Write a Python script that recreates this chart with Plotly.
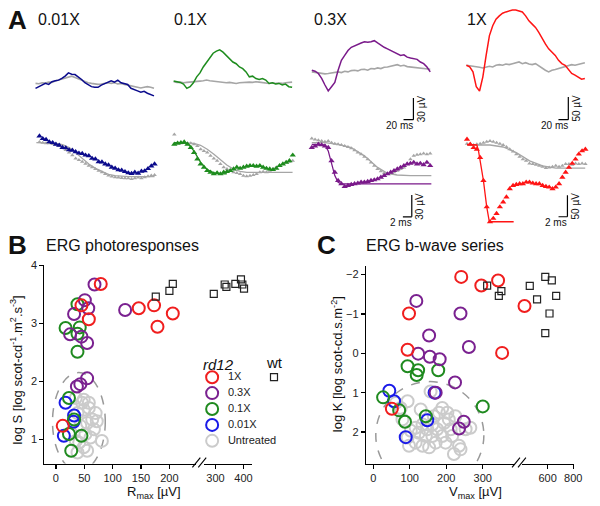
import plotly.graph_objects as go

W, H = 600, 506
FONT = "Liberation Sans, Arial, Helvetica, sans-serif"

# ====================== DATA : panel A (ERG traces) ======================
DT_TOP = 6.67   # ms between samples, flash responses
DT_BOT = 0.74   # ms between samples, a-wave leading edges

# flash responses (uV); treated and untreated (gray) traces
TOP_001 = [0, 2.3, 3.6, 6.8, 5.4, 9.1, 10.4, 11.3, 13.6, 16.8, 21.3, 19.5, 19.0, 15.9, 12.2, 7.7, 4.5, 2.3, 1.4, 1.4,
           4.5, 6.8, 8.2, 10.4, 8.6, 11.3, 7.7, 6.8, 5.4, 0, -1.4, -3.6, -5.4, -4.1, -6.8, -8.6, -10.4]
TOP_001_UNTR = [6.8, 6.3, 7.7, 7.3, 8.6, 8.2, 10.0, 11.3, 12.2, 13.6, 15.9, 16.8, 15.0, 13.1, 11.3, 9.1, 7.7, 6.8, 5.9,
                5.4, 5.9, 6.8, 7.7, 6.8, 7.7, 5.9, 6.8, 5.4, 4.5, 3.2, 2.3, 1.4, 0.5, 1.4, 2.3, 1.4, 0]
TOP_01 = [0, -0.9, -1.8, -4.1, -10.0, -7.7, -2.3, 5.9, 11.3, 19.5, 26.3, 33.1, 38.5, 41.3, 43.1, 39.9, 35.4, 30.8, 26.3,
          24.0, 19.5, 17.2, 12.7, 5.9, 6.8, 3.6, 2.3, 3.6, 1.4, -3.2, -2.3, -4.1, -3.2, -5.4, -4.1, -7.7, -8.6]
TOP_01_UNTR = [-0.9, -1.8, -1.4, -2.3, -1.8, -1.4, -1.8, -0.9, 0, 0.5, 1.4, 0.5, 0, -0.9, -0.5, -1.4, -2.3, -1.8, -2.7,
               -3.2, -2.3, -1.8, -2.3, -1.4, -1.8, -0.9, -1.4, -2.3, -3.2, -3.2, -2.3, -3.2, -2.7, -3.2, -2.3, -1.8, -1.4]
TOP_03 = [0, -1.4, -4.5, -11.3, -20.4, -28.6, -22.7, -16.8, 0, 13.6, 20.4, 27.2, 31.7, 34.0, 36.3, 37.6, 39.4, 38.5,
          39.4, 40.8, 37.6, 34.0, 31.7, 29.5, 27.2, 25.8, 22.7, 20.4, 21.3, 18.1, 16.8, 15.9, 15.0, 11.3, 9.1, 4.5, -2.3]
TOP_03_UNTR = [-2.3, -3.2, -4.1, -4.5, -5.0, -4.5, -3.6, -3.2, -2.3, -3.2, -1.4, -2.3, -0.5, 0, -0.9, 0.9, 1.4, 0, 2.3,
               1.8, 3.2, 2.3, 4.1, 4.5, 5.9, 6.8, 7.7, 5.9, 6.8, 5.0, 4.5, 3.2, 3.6, 2.3, 2.7, 1.4, 1.4]
TOP_1 = [0, -3.6, -14.5, -47.1, -56.6, -25.4, 21.8, 65.3, 87.0, 101.5, 108.8, 114.6, 117.5, 119.6, 121.8, 121.8, 119.6,
         117.5, 108.8, 97.9, 90.6, 83.4, 72.5, 58.0, 47.1, 36.3, 29.0, 21.8, 10.9, 3.6, 0, -8.7, -18.1, -21.8, -25.4,
         -30.5, -29.0]
TOP_1_UNTR = [0, -1.5, -2.2, -3.6, -4.4, -5.8, -3.6, -2.2, -3.6, 0, 1.5, 0, 2.9, 1.5, 3.6, 5.8, 7.3, 3.6, 5.8, 2.9, 1.5,
              3.6, -1.5, -7.3, -10.9, -14.5, -10.9, -9.4, -7.3, -3.6, -1.5, 0, 1.5, 0, 1.5, 3.6, 5.8]

# a-wave leading edges (uV): markers
BOT_001 = [2.3, -1.4, -2.5, -5.9, -6.8, -9.1, -10.5, -13.6, -14.1, -16.8, -17.3, -19.5, -21.4, -21.8, -24.1, -25.0,
           -28.6, -29.5, -33.2, -33.6, -36.4, -37.7, -40.9, -42.3, -44.5, -45.0, -46.8, -48.6, -49.5, -47.7, -49.1,
           -46.4, -45.9, -42.7, -39.1, -36.4]
BOT_001_UNTR = [-5.9, -6.8, -7.7, -7.7, -8.6, -9.5, -11.4, -13.6, -16.8, -20.5, -24.1, -28.6, -30.9, -33.2, -35.9,
                -38.6, -40.9, -43.2, -45.5, -47.7, -50.0, -52.3, -53.6, -54.5, -55.0, -55.5, -55.9, -55.9, -56.8, -55.9,
                -55.0, -55.9, -54.5, -53.2, -52.3, -51.4]
BOT_01 = [-2.3, -0.9, 0, 0.9, -2.3, -6.8, -13.6, -22.7, -29.5, -34.1, -38.6, -40.9, -43.2, -41.8, -43.2, -40.9, -40.0,
          -38.6, -36.4, -34.1, -35.5, -34.1, -32.7, -31.8, -31.8, -32.7, -31.8, -34.1, -35.5, -36.4, -37.3, -35.5,
          -31.8, -29.5, -27.3, -25.0, -17.3]
BOT_01_UNTR = [11.4, 0, -0.9, 0, -0.9, -0.9, -2.3, -4.5, -9.1, -11.4, -13.6, -18.2, -21.8, -25.0, -29.5, -34.1, -36.4,
               -38.6, -40.9, -41.8, -43.2, -45.5, -46.4, -45.5, -44.5, -43.2, -40.9, -40.0, -40.9, -38.6, -36.4, -34.1,
               -31.8, -29.5, -27.3, -26.4, -25.0]
BOT_03 = [-4.5, -2.3, 0, -0.9, -2.3, -4.5, -22.7, -38.6, -50.0, -54.5, -58.2, -56.8, -55.5, -54.5, -53.6, -52.3, -52.3,
          -51.4, -50.0, -49.1, -47.7, -45.5, -43.2, -40.9, -38.6, -36.4, -34.1, -31.8, -29.5, -27.3, -26.4, -25.0,
          -27.3, -26.4, -28.2, -25.0, -29.5]
BOT_03_UNTR = [8.2, 6.8, 5.5, 4.5, 3.6, 4.5, 2.3, 0.9, 0, -0.9, -2.3, -3.6, -5.5, -8.2, -11.4, -13.6, -17.3, -20.5,
               -25.0, -29.5, -34.1, -37.3, -40.0, -40.9, -40.0, -38.6, -36.4, -34.1, -31.8, -27.3, -20.5, -15.9, -14.5,
               -13.6, -12.7, -13.6, -12.7]
BOT_1 = [11.6, 0, -7.7, -11.6, -30.8, -84.7, -146.3, -181.0, -173.3, -161.7, -146.3, -134.8, -123.2, -104.0, -96.3,
         -94.0, -92.4, -92.4, -88.6, -88.6, -90.9, -92.4, -92.4, -96.3, -98.6, -100.1, -104.0, -100.1, -92.4, -77.0,
         -65.5, -53.9, -44.7, -34.7, -23.1, -15.4, -11.6]
BOT_1_UNTR = [1.5, 0, -1.5, 0, 1.5, 3.9, 6.2, 7.7, 6.2, 3.9, 1.5, -1.5, -6.2, -11.6, -16.9, -23.1, -29.3, -34.7, -38.5,
              -44.7, -46.2, -47.7, -50.1, -52.4, -55.4, -53.9, -52.4, -50.1, -52.4, -50.1, -46.2, -46.2, -47.7, -44.7,
              -46.2, -44.7, -46.2]

# model fits (time ms, uV)
FIT_001_UNTR_T = [-0.7, 0.7, 2.2, 3.7, 5.2, 6.7, 8.1, 9.6, 11.1, 12.6, 14.1, 15.5, 17.0, 18.5, 20.0, 21.5, 23.0, 24.4, 25.9]
FIT_001_UNTR_V = [-6.8, -6.8, -6.8, -7.7, -9.5, -13.6, -20.5, -28.6, -36.4, -42.3, -46.8, -50.5, -52.3, -53.2, -53.6,
                  -53.6, -53.6, -53.6, -53.6]
FIT_01_T = [0, 1.5, 3.0, 4.4, 5.9, 7.4, 8.9, 10.4, 11.8]
FIT_01_V = [0, 0, -0.9, -11.4, -27.3, -37.3, -41.8, -43.2, -43.2]
FIT_01_UNTR_T = [0, 1.5, 3.0, 4.4, 5.9, 7.4, 8.9, 10.4, 11.8, 13.3, 14.8, 16.3, 17.8, 19.2, 20.7, 22.2, 23.7, 25.2, 26.6]
FIT_01_UNTR_V = [0, 0, 0, -0.9, -3.6, -9.1, -15.9, -23.6, -30.9, -36.4, -39.5, -40.9, -40.9, -40.9, -40.9, -40.9,
                 -40.9, -40.9, -40.9]
FIT_03_T = [0, 2.22, 2.96, 3.70, 4.44, 5.18, 5.92, 6.66, 26.9]
FIT_03_V = [0, 0, -0.9, -9.1, -27.3, -43.2, -52.3, -54.5, -54.5]
FIT_03_UNTR_T = [0, 2.96, 5.92, 8.88, 11.84, 14.8, 17.0, 19.2, 22.2, 26.9]
FIT_03_UNTR_V = [2.3, 2.3, 0, -4.5, -15.9, -31.8, -40.0, -42.3, -43.2, -43.2]
FIT_1_T = [0, 2.22, 2.59, 3.70, 4.44, 5.03, 10.5]
FIT_1_V = [0, -1.5, -15.4, -84.7, -146.3, -181.0, -181.0]
FIT_1_UNTR_T = [0, 5.18, 8.14, 11.1, 14.1, 17.0, 20.0, 26.6]
FIT_1_UNTR_V = [-1.5, -1.5, -6.2, -19.3, -38.5, -50.1, -55.4, -55.4]

DOSE_LABELS = ["0.01X", "0.1X", "0.3X", "1X"]

# ====================== DATA : panel B (R_max uV, log S) ======================
B_1X_R = [79, 146, 173, 179, 206, 58, 45, 12]
B_1X_S = [3.68, 3.26, 3.31, 2.94, 3.17, 3.07, 3.31, 1.23]
B_03X_R = [68, 51, 57, 32, 25, 45, 55, 122, 55, 43, 37]
B_03X_S = [3.67, 3.40, 3.26, 3.16, 2.81, 2.77, 2.66, 3.23, 2.05, 1.95, 1.91]
B_01X_R = [38, 17, 42, 38, 38, 23, 32, 23, 45, 27]
B_01X_S = [3.33, 2.92, 2.93, 2.82, 2.51, 1.71, 1.34, 1.09, 1.06, 0.80]
B_001X_R = [17, 32, 31, 14]
B_001X_S = [1.63, 1.41, 1.30, 1.06]
B_UNTR_R = [49, 58, 49, 64, 72, 55, 43, 67, 52, 81, 41, 49, 61, 38, 46, 58, 70, 35, 55, 38, 35]
B_UNTR_S = [1.68, 1.54, 1.51, 1.34, 1.31, 1.28, 1.23, 1.17, 1.09, 0.97, 0.94, 0.86, 1.03, 1.45, 1.63, 1.63, 1.45,
            0.97, 0.80, 0.77, 1.71]
B_WT_R = [176, 200, 206, 294, 333, 339, 371, 391, 396, 402]
B_WT_S = [3.46, 3.56, 3.68, 3.51, 3.67, 3.63, 3.68, 3.76, 3.67, 3.60]
B_XTICKS_L = [0, 50, 100, 150, 200]
B_XTICKS_R = [300, 400]
B_YTICKS = [1, 2, 3, 4]

# ====================== DATA : panel C (V_max uV, log K) ======================
C_1X_V = [241, 296, 342, 420, 98, 94, 353, 51]
C_1X_K = [-1.94, -1.72, -1.85, -1.20, -1.01, -0.09, -0.01, 1.41]
C_03X_V = [118, 239, 153, 262, 123, 155, 182, 224, 171, 248, 235]
C_03X_K = [-1.33, -1.01, -0.45, -0.16, 0.01, 0.09, 0.15, 0.74, 1.00, 1.74, 1.91]
C_01X_V = [94, 123, 119, 178, 27, 71, 87, 144, 300]
C_01X_K = [0.33, 0.43, 0.55, 0.43, 1.12, 1.45, 1.74, 1.60, 1.35]
C_001X_V = [44, 57, 168, 148, 89]
C_001X_K = [0.95, 1.22, 1.00, 1.70, 2.13]
C_UNTR_V = [62, 75, 157, 189, 203, 225, 253, 266, 116, 135, 144, 162, 175, 194, 207, 198, 171, 153, 135, 116, 98, 94,
            103, 125, 216, 235, 221, 239, 189, 166, 180, 130, 80, 148, 162, 212, 94]
C_UNTR_K = [1.26, 1.39, 0.97, 1.39, 1.51, 1.60, 1.93, 1.89, 1.89, 1.81, 2.10, 2.10, 1.93, 1.77, 1.68, 2.27, 2.27, 2.39,
            2.35, 2.27, 2.35, 2.14, 1.97, 2.02, 2.10, 2.35, 2.56, 2.44, 2.10, 1.60, 1.51, 1.43, 1.68, 1.93, 1.81, 1.93,
            1.22]
C_WT_V = [312, 344, 351, 461, 518, 582, 633, 667, 615, 582]
C_WT_K = [-1.72, -1.46, -1.58, -1.71, -1.37, -1.94, -1.85, -1.46, -1.01, -0.51]
C_XTICKS_L = [0, 100, 200, 300]
C_XTICKS_R = [600, 800]
C_YTICKS = [-2, -1, 0, 1, 2]

LEGEND_LABELS = ["1X", "0.3X", "0.1X", "0.01X", "Untreated"]

# ====================== STYLE ======================
TRACE_COL = {"0.01X": "#0b0b8c", "0.1X": "#1e8c1e", "0.3X": "#7a1a8a", "1X": "#ff1414"}
GRAY_TR = "#a6a6a6"
DOT_COL = {"1X": "#f01e1e", "0.3X": "#7a2190", "0.1X": "#1f8a1f", "0.01X": "#1a1ae8", "Untreated": "#cbcbcb"}


def pxd(a, b):
    return [a / W, b / W]


def pyd(top, bot):
    return [1 - bot / H, 1 - top / H]


fig = go.Figure()
layout = {}

# ---------- panel A subplots ----------
A_SPECS = {
    1: dict(start=36.0, mspp=2.0, base=83.3, uvpp=1.3636, xdom=(30, 168), ydom=(0, 122)),
    2: dict(start=176.0, mspp=2.0, base=76.0, uvpp=1.3636, xdom=(170, 306), ydom=(0, 122)),
    3: dict(start=316.0, mspp=2.0, base=65.0, uvpp=1.3636, xdom=(310, 448), ydom=(0, 122)),
    4: dict(start=472.7, mspp=2.0, base=60.0, uvpp=2.175, xdom=(466, 600), ydom=(0, 122)),
    5: dict(start=40.0, mspp=0.222, base=133.3, uvpp=1.3636, xdom=(30, 168), ydom=(122, 232)),
    6: dict(start=176.7, mspp=0.222, base=138.3, uvpp=1.3636, xdom=(170, 306), ydom=(122, 232)),
    7: dict(start=316.0, mspp=0.222, base=140.0, uvpp=1.3636, xdom=(310, 448), ydom=(122, 232)),
    8: dict(start=473.3, mspp=0.222, base=140.0, uvpp=2.31, xdom=(466, 600), ydom=(122, 232)),
}
for i, s in A_SPECS.items():
    layout[f"xaxis{i}"] = dict(domain=pxd(*s["xdom"]), range=[(s["xdom"][0] - s["start"]) * s["mspp"],
                                                             (s["xdom"][1] - s["start"]) * s["mspp"]],
                               visible=False, anchor=f"y{i}", fixedrange=True)
    layout[f"yaxis{i}"] = dict(domain=pyd(*s["ydom"]), range=[(s["base"] - s["ydom"][1]) * s["uvpp"],
                                                             (s["base"] - s["ydom"][0]) * s["uvpp"]],
                               visible=False, anchor=f"x{i}", fixedrange=True)


def line_tr(vals, dt, ax, color, width=1.4):
    fig.add_trace(go.Scatter(x=[k * dt for k in range(len(vals))], y=vals, mode="lines",
                             line=dict(color=color, width=width), xaxis=f"x{ax}", yaxis=f"y{ax}",
                             showlegend=False, hoverinfo="skip"))


def fit_tr(t, v, ax, color):
    fig.add_trace(go.Scatter(x=t, y=v, mode="lines", line=dict(color=color, width=1.3),
                             xaxis=f"x{ax}", yaxis=f"y{ax}", showlegend=False, hoverinfo="skip"))


def tri_tr(vals, dt, ax, color, size):
    fig.add_trace(go.Scatter(x=[k * dt for k in range(len(vals))], y=vals, mode="markers",
                             marker=dict(symbol="triangle-up", size=size, color=color, line=dict(width=0)),
                             xaxis=f"x{ax}", yaxis=f"y{ax}", showlegend=False, hoverinfo="skip", cliponaxis=False))


top = [(TOP_001, TOP_001_UNTR, "0.01X"), (TOP_01, TOP_01_UNTR, "0.1X"),
       (TOP_03, TOP_03_UNTR, "0.3X"), (TOP_1, TOP_1_UNTR, "1X")]
for i, (tr, un, lab) in enumerate(top, start=1):
    line_tr(un, DT_TOP, i, GRAY_TR, 1.6)
    line_tr(tr, DT_TOP, i, TRACE_COL[lab], 1.5)

bot = [(BOT_001, BOT_001_UNTR, None, None, FIT_001_UNTR_T, FIT_001_UNTR_V, "0.01X"),
       (BOT_01, BOT_01_UNTR, FIT_01_T, FIT_01_V, FIT_01_UNTR_T, FIT_01_UNTR_V, "0.1X"),
       (BOT_03, BOT_03_UNTR, FIT_03_T, FIT_03_V, FIT_03_UNTR_T, FIT_03_UNTR_V, "0.3X"),
       (BOT_1, BOT_1_UNTR, FIT_1_T, FIT_1_V, FIT_1_UNTR_T, FIT_1_UNTR_V, "1X")]
for j, (tr, un, ft, fv, gt, gv, lab) in enumerate(bot, start=5):
    fit_tr(gt, gv, j, GRAY_TR)
    tri_tr(un, DT_BOT, j, GRAY_TR, 4)
    if ft is not None:
        fit_tr(ft, fv, j, TRACE_COL[lab])
    tri_tr(tr, DT_BOT, j, TRACE_COL[lab], 5.5)

shapes = []
annotations = []

# scale bars (axis, end time, bottom voltage, dt, dv, time label, voltage label)
SCALE_BARS = [(3, 206.0, -68.2, 20, 30, "20 ms", "30 µV"),
              (4, 206.6, -119.6, 20, 50, "20 ms", "50 µV"),
              (7, 22.5, -100.0, 2, 30, "2 ms", "30 µV"),
              (8, 22.6, -169.3, 2, 50, "2 ms", "50 µV")]
for ax, te, vb, dt, dv, tl, vl in SCALE_BARS:
    shapes.append(dict(type="line", xref=f"x{ax}", yref=f"y{ax}", x0=te, x1=te, y0=vb, y1=vb + dv,
                       line=dict(color="black", width=1.2)))
    shapes.append(dict(type="line", xref=f"x{ax}", yref=f"y{ax}", x0=te - dt, x1=te, y0=vb, y1=vb,
                       line=dict(color="black", width=1.2)))
    annotations.append(dict(text=tl, xref=f"x{ax}", yref=f"y{ax}", x=te, y=vb, xanchor="right", yanchor="top",
                            xshift=2, yshift=2, showarrow=False, font=dict(size=10, family=FONT, color="#111")))
    annotations.append(dict(text=vl, xref=f"x{ax}", yref=f"y{ax}", x=te, y=vb + dv / 2, xanchor="center",
                            yanchor="middle", xshift=8, textangle=-90, showarrow=False,
                            font=dict(size=10, family=FONT, color="#111")))

# ---------- panels B and C ----------
AX = dict(showline=True, linecolor="black", linewidth=1.2, ticks="outside", ticklen=4, tickwidth=1.2,
          tickcolor="black", showgrid=False, zeroline=False, fixedrange=True,
          tickfont=dict(size=11, family=FONT, color="#222"))

layout["xaxis9"] = dict(AX, domain=pxd(45, 199), range=[-20.3, 247.5], tickvals=B_XTICKS_L, anchor="y9")
layout["xaxis10"] = dict(AX, domain=pxd(207, 255), range=[260, 429], tickvals=B_XTICKS_R, anchor="y9")
layout["yaxis9"] = dict(AX, domain=pyd(262.5, 463), range=[0.58, 4.0], tickvals=B_YTICKS, anchor="x9")

layout["xaxis11"] = dict(AX, domain=pxd(371, 521.7), range=[-19.7, 387.6], tickvals=C_XTICKS_L, anchor="y10")
layout["xaxis12"] = dict(AX, domain=pxd(529, 582), range=[400, 808], tickvals=C_XTICKS_R, anchor="y10")
layout["yaxis10"] = dict(AX, domain=pyd(263, 463), range=[2.80, -2.22], tickvals=C_YTICKS, anchor="x11")


def dots(xs, ys, color, brk, xl, xr, yax, symbol="circle-open", size=12, lw=2):
    left = [(x, y) for x, y in zip(xs, ys) if x < brk]
    right = [(x, y) for x, y in zip(xs, ys) if x >= brk]
    for pts, xa in ((left, xl), (right, xr)):
        if not pts:
            continue
        fig.add_trace(go.Scatter(x=[p[0] for p in pts], y=[p[1] for p in pts], mode="markers",
                                 marker=dict(symbol=symbol, size=size, color=color, line=dict(width=lw, color=color)),
                                 xaxis=xa, yaxis=yax, showlegend=False, hoverinfo="skip", cliponaxis=False))


B_GROUPS = [("Untreated", B_UNTR_R, B_UNTR_S), ("0.01X", B_001X_R, B_001X_S), ("0.1X", B_01X_R, B_01X_S),
            ("0.3X", B_03X_R, B_03X_S), ("1X", B_1X_R, B_1X_S)]
C_GROUPS = [("Untreated", C_UNTR_V, C_UNTR_K), ("0.01X", C_001X_V, C_001X_K), ("0.1X", C_01X_V, C_01X_K),
            ("0.3X", C_03X_V, C_03X_K), ("1X", C_1X_V, C_1X_K)]
for lab, xs, ys in B_GROUPS:
    dots(xs, ys, DOT_COL[lab], 250, "x9", "x10", "y9")
dots(B_WT_R, B_WT_S, "#222", 250, "x9", "x10", "y9", symbol="square-open", size=7, lw=1.2)
for lab, xs, ys in C_GROUPS:
    dots(xs, ys, DOT_COL[lab], 400, "x11", "x12", "y10")
dots(C_WT_V, C_WT_K, "#222", 400, "x11", "x12", "y10", symbol="square-open", size=7, lw=1.2)

# dashed envelopes around untreated
shapes.append(dict(type="circle", xref="x9", yref="y9", x0=-6, x1=87, y0=0.45, y1=2.15, layer="below",
                   line=dict(color="#999", width=1.5, dash="dash")))
shapes.append(dict(type="circle", xref="x11", yref="y10", x0=7, x1=303, y0=0.72, y1=3.44, layer="below",
                   line=dict(color="#999", width=1.5, dash="dash")))

# axis break marks
for x0 in (195, 201, 519, 525):
    shapes.append(dict(type="line", xref="paper", yref="paper", x0=x0 / W, x1=(x0 + 8) / W,
                       y0=1 - 467 / H, y1=1 - 457 / H, line=dict(color="black", width=1.1)))

# ---------- legend (small hidden subplot, categories on y) ----------
layout["xaxis13"] = dict(domain=pxd(200, 300), range=[0, 100], visible=False, anchor="y11", fixedrange=True)
layout["yaxis11"] = dict(domain=pyd(367.6, 448.1), type="category", categoryarray=LEGEND_LABELS,
                         categoryorder="array", range=[4.5, -0.5], visible=False, anchor="x13", fixedrange=True)
for lab in LEGEND_LABELS:
    fig.add_trace(go.Scatter(x=[15], y=[lab], mode="markers", xaxis="x13", yaxis="y11",
                             marker=dict(symbol="circle-open", size=12, color=DOT_COL[lab],
                                         line=dict(width=2, color=DOT_COL[lab])),
                             showlegend=False, hoverinfo="skip", cliponaxis=False))
fig.add_trace(go.Scatter(x=[31] * len(LEGEND_LABELS), y=LEGEND_LABELS, text=LEGEND_LABELS, mode="text",
                         textposition="middle right", textfont=dict(size=11, family=FONT, color="#222"),
                         xaxis="x13", yaxis="y11", showlegend=False, hoverinfo="skip", cliponaxis=False))
fig.add_trace(go.Scatter(x=[77.7], y=[LEGEND_LABELS[0]], mode="markers", xaxis="x13", yaxis="y11",
                         marker=dict(symbol="square-open", size=7, color="#222", line=dict(width=1.2, color="#222")),
                         showlegend=False, hoverinfo="skip", cliponaxis=False))

# ---------- text ----------
def txt(text, x, y, size, xanchor="left", angle=0, yanchor="middle"):
    annotations.append(dict(text=text, xref="paper", yref="paper", x=x / W, y=1 - y / H, xanchor=xanchor,
                            yanchor=yanchor, textangle=angle, showarrow=False,
                            font=dict(size=size, family=FONT, color="#111")))


txt("<b>A</b>", 6, 14, 26)
txt("<b>B</b>", 6, 242, 26)
txt("<b>C</b>", 319, 242, 26)
for lab, x in zip(DOSE_LABELS, (36, 174, 316, 471)):
    txt(lab, x, 14, 16)
txt("ERG photoresponses", 45, 242, 16)
txt("ERG b-wave series", 369, 242, 16)
txt("log S [log scot-cd<sup>-1</sup>.m<sup>2</sup>.s<sup>-3</sup>]", 16, 368, 13, xanchor="center", angle=-90)
txt("log K [log scot-cd.s.m<sup>-2</sup>]", 341, 362, 13, xanchor="center", angle=-90)
txt("R<sub>max</sub> [µV]", 156, 492, 13, xanchor="center")
txt("V<sub>max</sub> [µV]", 482, 492, 13, xanchor="center")
txt("<i>rd12</i>", 204, 363, 15)
txt("wt", 278, 361, 15, xanchor="center")

fig.update_layout(width=W, height=H, margin=dict(l=0, r=0, t=0, b=0), paper_bgcolor="white",
                  plot_bgcolor="rgba(0,0,0,0)", showlegend=False, shapes=shapes, annotations=annotations,
                  font=dict(family=FONT), **layout)
fig.write_html("out.html", config={"displayModeBar": False, "staticPlot": True},
               post_script="document.body.style.margin='0';document.body.style.overflow='hidden';")
